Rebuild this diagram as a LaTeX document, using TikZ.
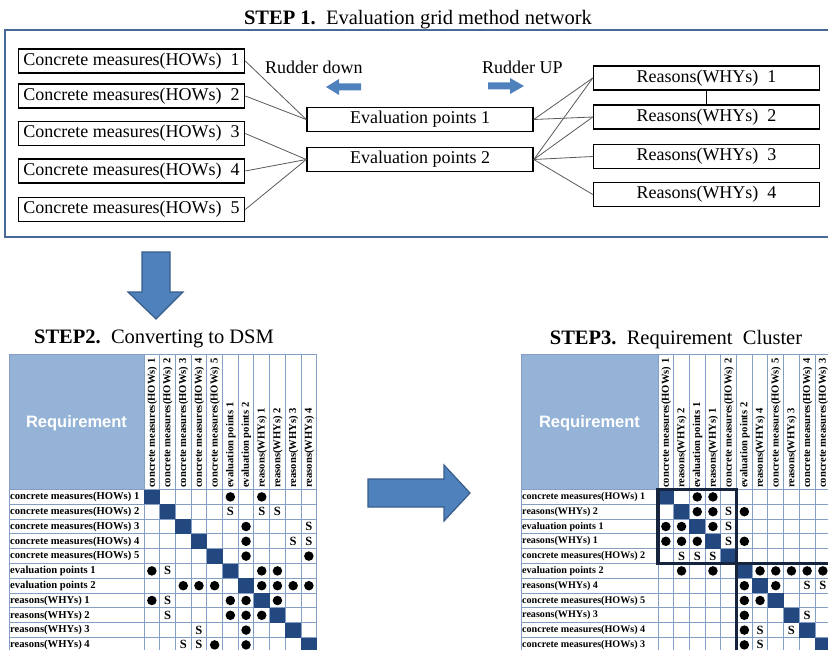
\documentclass[tikz,border=0pt]{standalone}
\usepackage{fontspec}
\setmainfont{Liberation Serif}
\newfontfamily\reqfont{Liberation Sans}
\definecolor{stepblue}{RGB}{79,129,189}
\definecolor{stepedge}{RGB}{56,93,138}
\definecolor{framecol}{RGB}{72,104,150}
\definecolor{headfill}{RGB}{149,179,215}
\definecolor{gridcol}{RGB}{132,158,198}
\definecolor{diagcol}{RGB}{35,72,128}
\definecolor{clustcol}{RGB}{22,36,62}

\tikzset{
  netbox/.style={draw, line width=1.5pt, minimum width=226pt, minimum height=24pt,
    inner sep=0pt, font=\fontsize{18}{20}\selectfont},
  wire/.style={draw=black!65, line width=0.8pt},
  steptitle/.style={anchor=base, inner sep=0pt, font=\fontsize{20.5}{23}\selectfont},
  rudder/.style={anchor=base west, inner sep=0pt, font=\fontsize{18}{20}\selectfont},
  blockarrow/.style={fill=stepblue, draw=stepedge, line width=1.2pt},
  gridline/.style={draw=gridcol, line width=0.9pt},
  reqlabel/.style={text=white, inner sep=0pt, font=\reqfont\bfseries\fontsize{16.5}{18}\selectfont},
  rowlab/.style={anchor=west, inner sep=0pt, font=\bfseries\fontsize{10.6}{12}\selectfont},
  collab/.style={anchor=west, rotate=90, inner sep=0pt, font=\bfseries\fontsize{10.6}{12}\selectfont},
  dsmdot/.style={circle, fill=black, inner sep=0pt, minimum size=9.5pt},
  dsms/.style={inner sep=0pt, font=\bfseries\fontsize{12.5}{13}\selectfont},
  cluster/.style={draw=clustcol, line width=3.2pt}
}

\begin{document}
\begin{tikzpicture}[x=1pt, y=-1pt]
\useasboundingbox (0,0) rectangle (828,650);
\clip (0,0) rectangle (828,650);

% step 1: evaluation grid network
\node[steptitle] (title1) at (418,25) {\textbf{STEP 1.}~~Evaluation grid method network};
\draw[framecol, line width=2pt] (834,30) -- (5,30) -- (5,237) -- (834,237);

\node[netbox] (how1) at (131.5,61) {Concrete measures(HOWs)~~1};
\node[netbox] (how2) at (131.5,96) {Concrete measures(HOWs)~~2};
\node[netbox] (how3) at (131.5,133.5) {Concrete measures(HOWs)~~3};
\node[netbox] (how4) at (131.5,171) {Concrete measures(HOWs)~~4};
\node[netbox] (how5) at (131.5,209.5) {Concrete measures(HOWs)~~5};

\node[netbox] (eval1) at (420,119.5) {Evaluation points 1};
\node[netbox] (eval2) at (420,159.5) {Evaluation points 2};

\node[netbox] (why1) at (706.5,78) {Reasons(WHYs)~~1};
\node[netbox] (why2) at (706.5,117) {Reasons(WHYs)~~2};
\node[netbox] (why3) at (706.5,156.5) {Reasons(WHYs)~~3};
\node[netbox] (why4) at (706.5,194.5) {Reasons(WHYs)~~4};

\draw[wire] (how1.east) -- (eval1.west);
\draw[wire] (how2.east) -- (eval1.west);
\draw[wire] (how3.east) -- (eval2.west);
\draw[wire] (how4.east) -- (eval2.west);
\draw[wire] (how5.east) -- (eval2.west);
\draw[wire] (eval1.east) -- (why1.west);
\draw[wire] (eval1.east) -- (why2.west);
\draw[wire] (eval2.east) -- (why1.west);
\draw[wire] (eval2.east) -- (why2.west);
\draw[wire] (eval2.east) -- (why3.west);
\draw[wire] (eval2.east) -- (why4.west);
\draw[line width=0.8pt] (why1.south) -- (why2.north);

\node[rudder] (down) at (265,74) {Rudder down};
\node[rudder] (up) at (482,74) {Rudder UP};
\fill[stepblue] (361,83.5) -- (339,83.5) -- (339,79) -- (326,87) -- (339,95) -- (339,90.5) -- (361,90.5) -- cycle;
\fill[stepblue] (488,82.5) -- (510,82.5) -- (510,78) -- (524,86) -- (510,94) -- (510,89.5) -- (488,89.5) -- cycle;

% big arrows
\draw[blockarrow] (142,252) -- (170,252) -- (170,292) -- (183,292) -- (156,319) -- (128,292) -- (142,292) -- cycle;
\draw[blockarrow] (368,479) -- (444,479) -- (444,465) -- (470,493) -- (444,521) -- (444,507) -- (368,507) -- cycle;

% step 2: DSM
\node[steptitle] (title2) at (154,343.5) {\textbf{STEP2.}~~Converting to DSM};
\begin{scope}[shift={(144,489.5)}]
  \fill[headfill] (-135,-135.5) rectangle (0,0);
  \foreach \i in {0,...,11} {
    \draw[gridline] (-135,\i*14.8) -- (172.7,\i*14.8);
    \draw[gridline] (\i*15.7,-135.5) -- (\i*15.7,162.8);
  }
  \draw[gridline] (-135,162.8) -- (-135,-135.5) -- (172.7,-135.5);
  \node[reqlabel] (L-req) at (-67.5,-66.5) {Requirement};
  \foreach \lab [count=\i from 0] in {concrete measures(HOWs) 1, concrete measures(HOWs) 2,
      concrete measures(HOWs) 3, concrete measures(HOWs) 4, concrete measures(HOWs) 5,
      evaluation points 1, evaluation points 2, reasons(WHYs) 1, reasons(WHYs) 2,
      reasons(WHYs) 3, reasons(WHYs) 4} {
    \node[rowlab] (L-r\i) at (-134,\i*14.8+7.6) {\lab};
    \node[collab] (L-c\i) at (\i*15.7+8.2,-1.5) {\lab};
  }
  \foreach \i in {0,...,10}
    \fill[diagcol] (\i*15.7,\i*14.8) rectangle ++(15.7,14.8);
  \foreach \r/\c in {0/5,0/7,2/6,3/6,4/6,4/10,5/0,5/7,5/8,6/2,6/3,6/4,6/7,6/8,6/9,6/10,
      7/0,7/5,7/6,7/8,8/5,8/6,8/7,9/6,10/4,10/6}
    \node[dsmdot] (L-d\r-\c) at (\c*15.7+7.85,\r*14.8+7.4) {};
  \foreach \r/\c in {1/5,1/7,1/8,2/10,3/9,3/10,5/1,7/1,8/1,9/3,10/2,10/3}
    \node[dsms] (L-s\r-\c) at (\c*15.7+7.85,\r*14.8+7.4) {S};
\end{scope}

% step 3: clustered DSM
\node[steptitle] (title3) at (676,344.5) {\textbf{STEP3.}~~Requirement~~Cluster};
\begin{scope}[shift={(658,489.5)}]
  \fill[headfill] (-137,-135.5) rectangle (0,0);
  \foreach \i in {0,...,11} {
    \draw[gridline] (-137,\i*14.8) -- (172.7,\i*14.8);
    \draw[gridline] (\i*15.7,-135.5) -- (\i*15.7,162.8);
  }
  \draw[gridline] (-137,162.8) -- (-137,-135.5) -- (172.7,-135.5);
  \node[reqlabel] (R-req) at (-68.5,-66.5) {Requirement};
  \foreach \lab [count=\i from 0] in {concrete measures(HOWs) 1, reasons(WHYs) 2,
      evaluation points 1, reasons(WHYs) 1, concrete measures(HOWs) 2,
      evaluation points 2, reasons(WHYs) 4, concrete measures(HOWs) 5,
      reasons(WHYs) 3, concrete measures(HOWs) 4, concrete measures(HOWs) 3} {
    \node[rowlab, font=\bfseries\fontsize{10.1}{12}\selectfont] (R-r\i) at (-136,\i*14.8+7.6) {\lab};
    \node[collab] (R-c\i) at (\i*15.7+8.2,-1.5) {\lab};
  }
  \foreach \i in {0,...,10}
    \fill[diagcol] (\i*15.7,\i*14.8) rectangle ++(15.7,14.8);
  \foreach \r/\c in {0/2,0/3,1/2,1/3,1/5,2/0,2/1,2/3,3/0,3/1,3/2,3/5,5/1,5/3,5/6,5/7,
      5/8,5/9,5/10,6/5,6/7,7/5,7/6,8/5,9/5,10/5}
    \node[dsmdot] (R-d\r-\c) at (\c*15.7+7.85,\r*14.8+7.4) {};
  \foreach \r/\c in {1/4,2/4,3/4,4/1,4/2,4/3,6/9,6/10,8/9,9/6,9/8,10/6}
    \node[dsms] (R-s\r-\c) at (\c*15.7+7.85,\r*14.8+7.4) {S};
  \draw[cluster] (0,0) rectangle (78.5,74);
  \draw[cluster] (78.5,74) rectangle (190,180);
\end{scope}
\end{tikzpicture}
\end{document}
